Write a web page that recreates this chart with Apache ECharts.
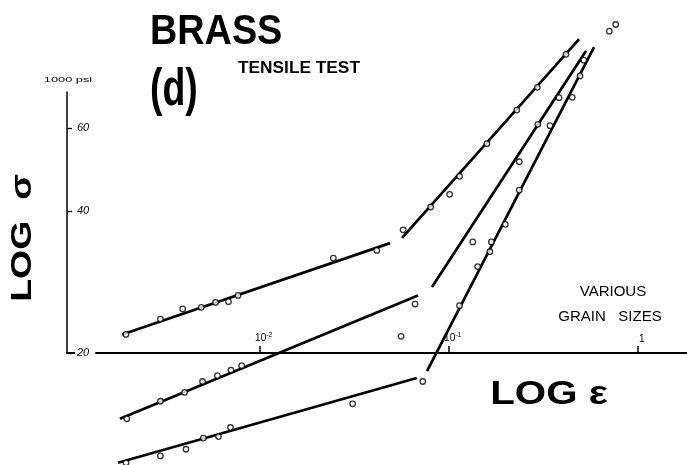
<!DOCTYPE html>
<html>
<head>
<meta charset="utf-8">
<script src="https://cdn.jsdelivr.net/npm/echarts@6/dist/echarts.min.js"></script>
<style>
html,body{margin:0;padding:0;background:#fff;}
#chart{width:687px;height:465px;}
</style>
</head>
<body>
<div id="chart"></div>
<script>
// ---- data (strain ε, stress σ in 1000 psi) ----
// grain size A (top curve)
const strainA_low  = [0.00196, 0.00298, 0.00391, 0.0049, 0.00583, 0.00683, 0.00767, 0.0245, 0.0416];
const stressA_low  = [21.9, 23.6, 24.8, 25.0, 25.6, 25.7, 26.5, 31.8, 33.0];
const strainA_high = [0.0573, 0.0802, 0.101, 0.114, 0.159, 0.229, 0.294, 0.417];
const stressA_high = [36.5, 40.8, 43.4, 47.4, 55.6, 65.5, 73.2, 86.0];
const fitA_low_strain  = [0.00187, 0.0489];
const fitA_low_stress  = [21.9, 34.2];
const fitA_high_strain = [0.0566, 0.489];
const fitA_high_stress = [35.1, 92.6];
// grain size B (middle curve)
const strainB_low  = [0.00198, 0.00298, 0.0040, 0.00498, 0.00597, 0.00704, 0.00802, 0.0559, 0.0663];
const stressB_low  = [14.5, 15.8, 16.5, 17.4, 17.9, 18.4, 18.8, 21.7, 25.4];
const strainB_high = [0.134, 0.236, 0.296, 0.383, 0.518];
const stressB_high = [34.4, 50.9, 61.1, 69.6, 83.6];
const fitB_low_strain  = [0.00182, 0.0687];
const fitB_low_stress  = [14.5, 26.5];
const fitB_high_strain = [0.0815, 0.532];
const fitB_high_stress = [27.6, 87.4];
// grain size C (bottom curve)
const strainC_low  = [0.00196, 0.00298, 0.00407, 0.00503, 0.00605, 0.0070, 0.0310, 0.0728];
const stressC_low  = [11.7, 12.1, 12.5, 13.2, 13.3, 13.9, 15.6, 17.4];
const strainC_high = [0.114, 0.142, 0.165, 0.168, 0.199, 0.236, 0.343, 0.450, 0.495];
const stressC_high = [25.2, 30.5, 32.8, 34.4, 37.5, 44.3, 60.7, 69.7, 77.4];
const fitC_low_strain  = [0.00178, 0.0677];
const fitC_low_stress  = [11.7, 17.7];
const fitC_high_strain = [0.0767, 0.587];
const fitC_high_stress = [18.3, 89.1];
// end points near fracture
const strainEnd = [0.707, 0.764];
const stressEnd = [96.3, 99.5];
// axis ticks
const xTickValues = [0.01, 0.1, 1];
const xTickLabels = ['10{s|-2}', '10{s|-1}', '1'];
const yTickValues = [20, 40, 60];
const yTickLabels = ['20', '40', '60'];

const zip = (a, b) => a.map((v, i) => [v, b[i]]);
const FONT = 'Liberation Sans';

function lineSeries(xs, ys) {
  return {
    type: 'line', data: zip(xs, ys), showSymbol: false, clip: false, silent: true,
    lineStyle: { color: '#000', width: 2.7 }, z: 2, animation: false
  };
}
function pointSeries(xs, ys) {
  return {
    type: 'scatter', data: zip(xs, ys), clip: false, symbol: 'circle', symbolSize: 5.5,
    itemStyle: { color: '#fff', borderColor: '#000', borderWidth: 1.3 }, z: 3, animation: false
  };
}

const chart = echarts.init(document.getElementById('chart'), null, { renderer: 'canvas' });
chart.setOption({
  animation: false,
  backgroundColor: '#fff',
  grid: { left: 67, right: 0, top: 92, bottom: 112 },
  xAxis: {
    type: 'log', min: Math.pow(10, -3.02), max: Math.pow(10, 0.2604),
    axisLine: { show: true, lineStyle: { color: '#000', width: 2 } },
    axisTick: { show: true, inside: true, length: 7, customValues: xTickValues, lineStyle: { color: '#000', width: 1.5 } },
    axisLabel: {
      show: true, inside: true, margin: 9, customValues: xTickValues,
      fontFamily: FONT, fontSize: 10, color: '#000', padding: [0, 0, 0, 8],
      formatter: v => { const i = xTickValues.findIndex(t => Math.abs(t - v) / t < 1e-6); return i >= 0 ? xTickLabels[i] : ''; },
      rich: { s: { fontSize: 7, verticalAlign: 'top', fontFamily: FONT, padding: [0, 0, 5, 0] } }
    },
    splitLine: { show: false }, minorTick: { show: false }
  },
  yAxis: {
    type: 'log', min: 20, max: 71.55, z: 5,
    axisLine: { show: true, lineStyle: { color: '#000', width: 1.5 } },
    axisTick: { show: true, inside: true, length: 5, customValues: yTickValues, lineStyle: { color: '#000', width: 1.3 } },
    axisLabel: {
      show: true, inside: true, margin: 8, customValues: yTickValues,
      fontFamily: FONT, fontSize: 11, fontStyle: 'italic', color: '#000',
      backgroundColor: '#fff', padding: [2, 6, 2, 2],
      formatter: v => { const i = yTickValues.findIndex(t => Math.abs(t - v) / t < 1e-6); return i >= 0 ? yTickLabels[i] : ''; }
    },
    splitLine: { show: false }, minorTick: { show: false }
  },
  series: [
    lineSeries(fitA_low_strain, fitA_low_stress),
    lineSeries(fitA_high_strain, fitA_high_stress),
    lineSeries(fitB_low_strain, fitB_low_stress),
    lineSeries(fitB_high_strain, fitB_high_stress),
    lineSeries(fitC_low_strain, fitC_low_stress),
    lineSeries(fitC_high_strain, fitC_high_stress),
    pointSeries(strainA_low, stressA_low),
    pointSeries(strainA_high, stressA_high),
    pointSeries(strainB_low, stressB_low),
    pointSeries(strainB_high, stressB_high),
    pointSeries(strainC_low, stressC_low),
    pointSeries(strainC_high, stressC_high),
    pointSeries(strainEnd, stressEnd)
  ],
  graphic: [
    { type: 'text', left: 150, top: 11, style: { text: 'BRASS', font: 'bold 42px "Liberation Sans"', fill: '#000' }, scaleX: 0.9 },
    { type: 'text', x: 150, y: 91, scaleX: 0.72, style: { text: '(d)', font: 'bold 52px "Liberation Sans"', fill: '#000', verticalAlign: 'middle' } },
    { type: 'text', x: 238, y: 69, scaleX: 1.08, style: { text: 'TENSILE TEST', font: 'bold 16px "Liberation Sans"', fill: '#000', verticalAlign: 'middle' } },
    { type: 'text', x: 68, y: 80, scaleX: 1.6, style: { text: '1000 psi', font: '8px "Liberation Sans"', fill: '#000', align: 'center', verticalAlign: 'middle' } },
    { type: 'text', x: 23, y: 238, rotation: Math.PI / 2, scaleX: 1.25, style: { text: 'LOG  σ', font: 'bold 30px "Liberation Sans"', fill: '#000', align: 'center', verticalAlign: 'middle' } },
    { type: 'text', x: 549, y: 395, scaleX: 1.22, style: { text: 'LOG ε', font: 'bold 33px "Liberation Sans"', fill: '#000', align: 'center', verticalAlign: 'middle' } },
    { type: 'text', x: 613, y: 292, style: { text: 'VARIOUS', font: '15px "Liberation Sans"', fill: '#000', align: 'center', verticalAlign: 'middle' } },
    { type: 'text', x: 610, y: 317, style: { text: 'GRAIN   SIZES', font: '15px "Liberation Sans"', fill: '#000', align: 'center', verticalAlign: 'middle' } }
  ]
});
</script>
</body>
</html>
